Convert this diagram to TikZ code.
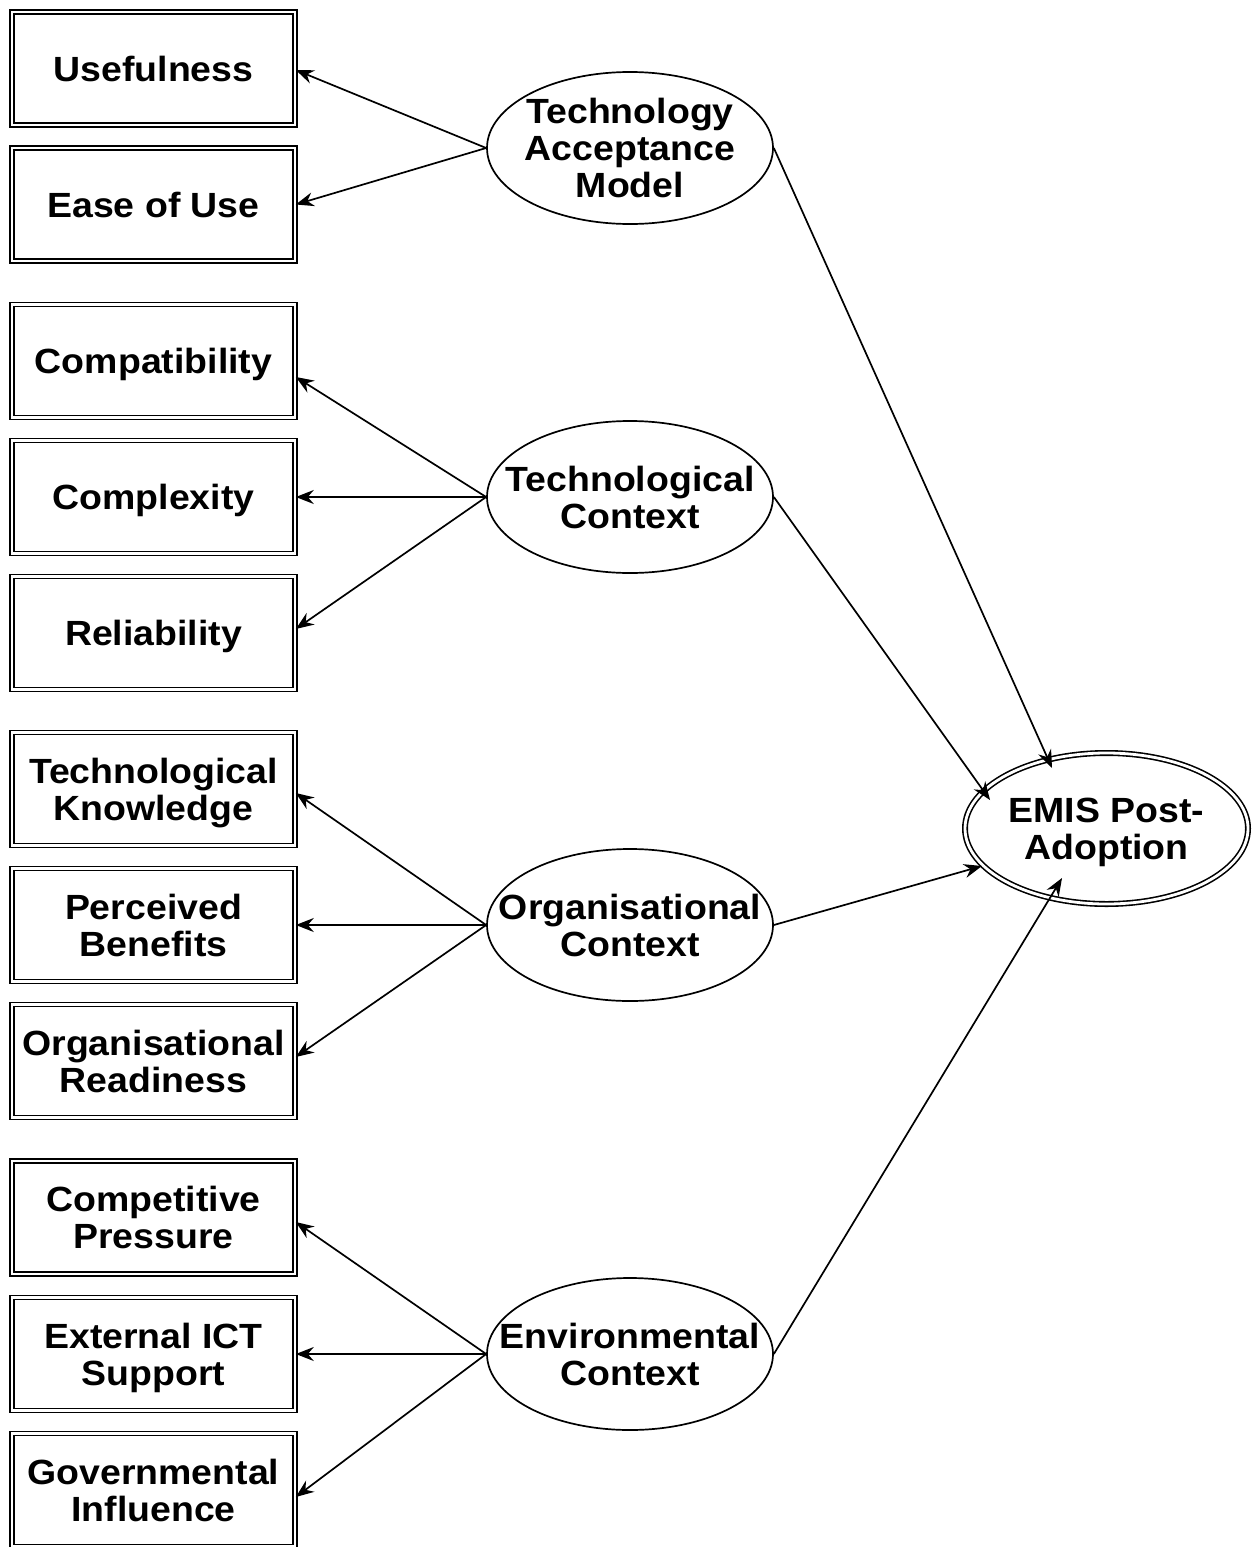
\documentclass[tikz,border=0pt]{standalone}
\usepackage{fontspec}
\setmainfont{Liberation Sans}[FakeStretch=1.07]
\usetikzlibrary{shapes.geometric,arrows.meta}
% #1 = number of lines; text is centred on the node centre, independent of descenders
\newcommand{\zt}[2]{\raisebox{\dimexpr -12.8pt - 18.5pt*(#1-1)\relax}[0pt][0pt]{\makebox[0pt][c]{\begin{tabular}[b]{@{}c@{}}#2\end{tabular}}}}
\begin{document}
\begin{tikzpicture}[x=1pt,y=-1pt,
 lbl/.style={font=\bfseries\fontsize{35}{37}\selectfont, align=center, text=black},
 fbox/.style={lbl, draw, rectangle, double, double distance=2.2pt, line width=1.6pt, minimum width=283pt, minimum height=113pt, inner sep=0pt},
 fell/.style={lbl, draw, ellipse, line width=1.7pt, minimum width=286pt, minimum height=152pt, inner sep=0pt},
 targ/.style={lbl, draw, ellipse, double, double distance=2.8pt, line width=1.6pt, minimum width=283pt, minimum height=151pt, inner sep=0pt},
 arr/.style={-{Stealth[length=18pt,width=14pt,inset=6pt]}, line width=1.7pt}
]
\useasboundingbox (0,0) rectangle (1252,1547);

% boxes
\node[fbox] (use) at (153.5,68.5) {\zt{1}{Usefulness}};
\node[fbox] (ease) at (153.5,204.5) {\zt{1}{Ease of Use}};
\node[fbox] (compat) at (153.5,361) {\zt{1}{Compatibility}};
\node[fbox] (complex) at (153.5,497) {\zt{1}{Complexity}};
\node[fbox] (rel) at (153.5,633) {\zt{1}{Reliability}};
\node[fbox] (tk) at (153.5,789) {\zt{2}{Technological\\Knowledge}};
\node[fbox] (pb) at (153.5,925) {\zt{2}{Perceived\\Benefits}};
\node[fbox] (orr) at (153.5,1061) {\zt{2}{Organisational\\Readiness}};
\node[fbox] (cp) at (153.5,1217.5) {\zt{2}{Competitive\\Pressure}};
\node[fbox] (ict) at (153.5,1354) {\zt{2}{External ICT\\Support}};
\node[fbox] (gi) at (153.5,1490) {\zt{2}{Governmental\\Influence}};

% ellipses
\node[fell] (tam) at (630,148) {\zt{3}{Technology\\Acceptance\\Model}};
\node[fell] (tc) at (630,497) {\zt{2}{Technological\\Context}};
\node[fell] (oc) at (630,925) {\zt{2}{Organisational\\Context}};
\node[fell] (ec) at (630,1354) {\zt{2}{Environmental\\Context}};
\node[targ] (emis) at (1106.5,828.5) {\zt{2}{EMIS Post-\\Adoption}};

% arrows to boxes
\draw[arr] (tam.west) -- ([yshift=-1.5pt]use.east);
\draw[arr] (tam.west) -- (ease.east);
\draw[arr] (tc.west) -- ([yshift=-16pt]compat.east);
\draw[arr] (tc.west) -- (complex.east);
\draw[arr] (tc.west) -- ([yshift=4pt]rel.east);
\draw[arr] (oc.west) -- ([yshift=-4pt]tk.east);
\draw[arr] (oc.west) -- (pb.east);
\draw[arr] (oc.west) -- ([yshift=4pt]orr.east);
\draw[arr] (ec.west) -- ([yshift=-4.5pt]cp.east);
\draw[arr] (ec.west) -- (ict.east);
\draw[arr] (ec.west) -- ([yshift=-7pt]gi.east);

% arrows to target
\draw[arr] (tam.east) -- ([xshift=-54.5pt,yshift=60.5pt]emis.center);
\draw[arr] (tc.east) -- ([xshift=-116.5pt,yshift=28.5pt]emis.center);
\draw[arr] (oc.east) -- ([xshift=-124.5pt,yshift=-37.5pt]emis.center);
\draw[arr] (ec.east) -- ([xshift=-44.5pt,yshift=-49.5pt]emis.center);
\end{tikzpicture}
\end{document}
